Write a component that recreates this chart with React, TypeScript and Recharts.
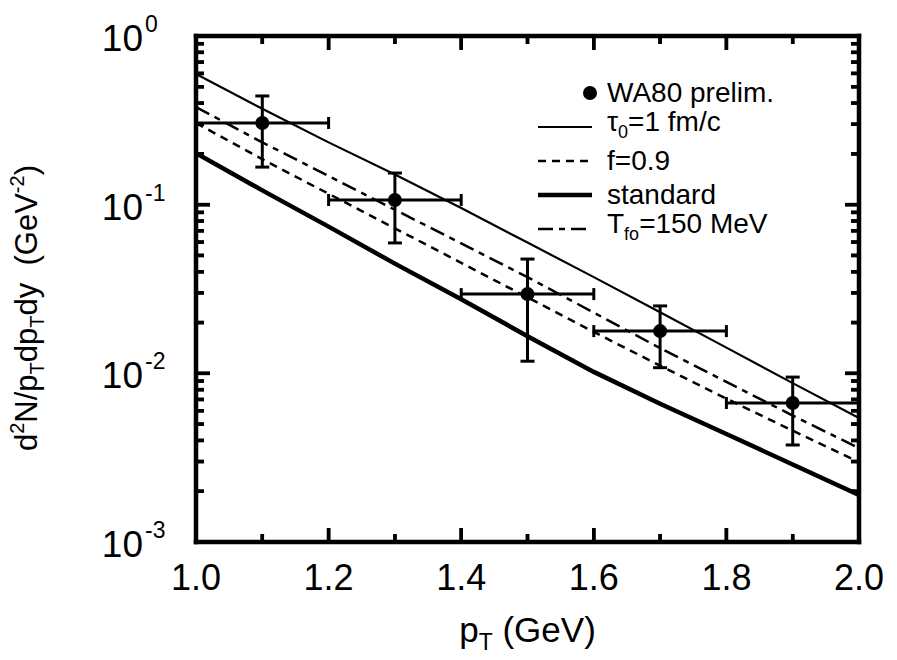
import React from 'react';
import { ComposedChart, Line, Scatter, ErrorBar, XAxis, YAxis, Legend } from 'recharts';

const FONT = '"Liberation Sans", Arial, Helvetica, sans-serif';

// model curves, sampled every 0.1 GeV
const pT = [1.0, 1.1, 1.2, 1.3, 1.4, 1.5, 1.6, 1.7, 1.8, 1.9, 2.0];
const tau0 = [0.596, 0.37, 0.234, 0.151, 0.0955, 0.0596, 0.0372, 0.023, 0.0142, 0.00875, 0.00543];
const f09 = [0.305, 0.186, 0.116, 0.0724, 0.0452, 0.0282, 0.0176, 0.0111, 0.00708, 0.00457, 0.00298];
const standard = [0.202, 0.1216, 0.0741, 0.0447, 0.0275, 0.0166, 0.0102, 0.0066, 0.00437, 0.00288, 0.0019];
const tfo150 = [0.379, 0.234, 0.148, 0.0933, 0.0589, 0.0372, 0.0229, 0.0141, 0.0089, 0.00562, 0.0036];

// WA80 preliminary points
const wa80X = [1.1, 1.3, 1.5, 1.7, 1.9];
const wa80Y = [0.305, 0.1066, 0.0295, 0.0178, 0.00667];
const wa80Low = [0.167, 0.0593, 0.0118, 0.0108, 0.00376];
const wa80High = [0.441, 0.154, 0.0476, 0.0251, 0.0095];
const wa80XErr = [0.1, 0.1, 0.1, 0.1, 0.1];

const xTicks = [1.0, 1.1, 1.2, 1.3, 1.4, 1.5, 1.6, 1.7, 1.8, 1.9, 2.0];
const yTicks = [
  0.001, 0.002, 0.003, 0.004, 0.005, 0.006, 0.007, 0.008, 0.009,
  0.01, 0.02, 0.03, 0.04, 0.05, 0.06, 0.07, 0.08, 0.09,
  0.1, 0.2, 0.3, 0.4, 0.5, 0.6, 0.7, 0.8, 0.9, 1,
];
const X_MIN = 1;
const X_MAX = 2;
const Y_MIN = 0.001;
const Y_MAX = 1;

const curves = pT.map((x, i) => ({
  x,
  tau0: tau0[i],
  f09: f09[i],
  standard: standard[i],
  tfo150: tfo150[i],
}));

const points = wa80X.map((x, i) => ({
  x,
  y: wa80Y[i],
  ex: wa80XErr[i],
  ey: [wa80Y[i] - wa80Low[i], wa80High[i] - wa80Y[i]],
}));

const isMajorX = (v: number) => Math.round(v * 10) % 2 === 0;
const isDecade = (v: number) => Math.abs(Math.log10(v) - Math.round(Math.log10(v))) < 1e-9;
const MAJOR = 14;
const MINOR = 8;

// frame tick marks, also placed as points on the frame edges
const majorX = xTicks.filter(isMajorX);
const minorX = xTicks.filter((v) => !isMajorX(v));
const majorY = yTicks.filter(isDecade);
const minorY = yTicks.filter((v) => !isDecade(v));
const bottomMarks = (vals: number[]) => vals.map((v) => ({ x: v, y: Y_MIN }));
const topMarks = (vals: number[]) => vals.map((v) => ({ x: v, y: Y_MAX }));
const leftMarks = (vals: number[]) => vals.map((v) => ({ x: X_MIN, y: v }));
const rightMarks = (vals: number[]) => vals.map((v) => ({ x: X_MAX, y: v }));

const mark = (dx: number, dy: number) => (p: any) => (
  <line x1={p.cx} y1={p.cy} x2={p.cx + dx} y2={p.cy + dy} stroke="#000" strokeWidth={3.5} />
);

const BottomTick = ({ x, y, payload }: any) => {
  const major = isMajorX(payload.value);
  return (
    <g>
      <line x1={x} x2={x} y1={y} y2={y - (major ? MAJOR : MINOR)} stroke="#000" strokeWidth={3.5} />
      {major && (
        <text x={x} y={y + 48} textAnchor="middle" fontSize={36} fontFamily={FONT} fill="#000">
          {payload.value.toFixed(1)}
        </text>
      )}
    </g>
  );
};

const TopTick = ({ x, y, payload }: any) => (
  <line x1={x} x2={x} y1={y} y2={y + (isMajorX(payload.value) ? MAJOR : MINOR)} stroke="#000" strokeWidth={3.5} />
);

const LeftTick = ({ x, y, payload }: any) => {
  const major = isDecade(payload.value);
  const exp = Math.round(Math.log10(payload.value));
  return (
    <g>
      <line x1={x} x2={x + (major ? MAJOR : MINOR)} y1={y} y2={y} stroke="#000" strokeWidth={3.5} />
      {major && (
        <g fontFamily={FONT} fill="#000">
          <text x={x - 53} y={y + 15} textAnchor="end" fontSize={37}>10</text>
          <text x={x - 51} y={y - 4} fontSize={23}>{exp}</text>
        </g>
      )}
    </g>
  );
};

const RightTick = ({ x, y, payload }: any) => (
  <line x1={x} x2={x - (isDecade(payload.value) ? MAJOR : MINOR)} y1={y} y2={y} stroke="#000" strokeWidth={3.5} />
);

const XTitle = ({ viewBox }: any) => {
  const cx = viewBox.x + viewBox.width / 2;
  return (
    <text x={cx} y={viewBox.y + 100} textAnchor="middle" fontSize={35} fontFamily={FONT} fill="#000">
      p<tspan fontSize={23} dy={8}>T</tspan>
      <tspan dy={-8}> (GeV)</tspan>
    </text>
  );
};

const YTitle = () => {
  const cx = 37;
  const cy = 308;
  return (
    <text
      x={cx}
      y={cy}
      transform={`rotate(-90 ${cx} ${cy})`}
      textAnchor="middle"
      fontSize={31}
      fontFamily={FONT}
      fill="#000"
      style={{ whiteSpace: 'pre' }}
    >
      d<tspan fontSize={20} dy={-13}>2</tspan>
      <tspan dy={13}>N/p</tspan>
      <tspan fontSize={20} dy={7}>T</tspan>
      <tspan dy={-7}>dp</tspan>
      <tspan fontSize={20} dy={7}>T</tspan>
      <tspan dy={-7}>{'dy  (GeV'}</tspan>
      <tspan fontSize={20} dy={-13}>-2</tspan>
      <tspan dy={13}>)</tspan>
    </text>
  );
};

const legendRows = [
  { key: 'wa80', label: <>WA80 prelim.</> },
  { key: 'tau0', label: <>τ<sub style={{ fontSize: 18 }}>0</sub>=1 fm/c</>, width: 2.2 },
  { key: 'f09', label: <>f=0.9</>, width: 2.5, dash: '8 6' },
  { key: 'standard', label: <>standard</>, width: 4.5 },
  { key: 'tfo150', label: <>T<sub style={{ fontSize: 18 }}>fo</sub>=150 MeV</>, width: 2.5, dash: '15 6 6 6' },
];

const LegendBox = () => (
  <div style={{ fontFamily: FONT, fontSize: 28, color: '#000' }}>
    {legendRows.map((r) => (
      <div key={r.key} style={{ display: 'flex', alignItems: 'center', height: 34 }}>
        <svg width={77} height={34} style={{ flexShrink: 0 }}>
          {r.key === 'wa80' ? (
            <circle cx={60} cy={17} r={7} fill="#000" />
          ) : (
            <line x1={8} x2={62} y1={17} y2={17} stroke="#000" strokeWidth={r.width} strokeDasharray={r.dash} />
          )}
        </svg>
        <span style={{ whiteSpace: 'nowrap', lineHeight: '34px' }}>{r.label}</span>
      </div>
    ))}
  </div>
);

const axisLine = { stroke: '#000', strokeWidth: 4.5, strokeLinecap: 'square' as const };

const markSeries: Array<[string, any[], number, number]> = [
  ['bMaj', bottomMarks(majorX), 0, -MAJOR],
  ['bMin', bottomMarks(minorX), 0, -MINOR],
  ['tMaj', topMarks(majorX), 0, MAJOR],
  ['tMin', topMarks(minorX), 0, MINOR],
  ['lMaj', leftMarks(majorY), MAJOR, 0],
  ['lMin', leftMarks(minorY), MINOR, 0],
  ['rMaj', rightMarks(majorY), -MAJOR, 0],
  ['rMin', rightMarks(minorY), -MINOR, 0],
];

export default function App() {
  return (
    <div style={{ position: 'absolute', left: 0, top: 0, width: 897, height: 660, background: '#fff' }}>
      <ComposedChart
        width={897}
        height={660}
        data={curves}
        margin={{ top: 35, right: 37, bottom: 38, left: 46 }}
      >
        <XAxis
          dataKey="x"
          type="number"
          domain={[X_MIN, X_MAX]}
          ticks={xTicks}
          interval={0}
          allowDataOverflow
          height={80}
          tickSize={0}
          tickMargin={0}
          tickLine={false}
          axisLine={axisLine}
          tick={<BottomTick />}
          label={{ content: <XTitle /> }}
        />
        <XAxis
          xAxisId="top"
          dataKey="x"
          type="number"
          orientation="top"
          domain={[X_MIN, X_MAX]}
          ticks={xTicks}
          interval={0}
          allowDataOverflow
          height={1}
          tickSize={0}
          tickMargin={0}
          tickLine={false}
          axisLine={axisLine}
          tick={<TopTick />}
        />
        <YAxis
          type="number"
          scale="log"
          domain={[Y_MIN, Y_MAX]}
          ticks={yTicks}
          interval={0}
          allowDataOverflow
          width={150}
          tickSize={0}
          tickMargin={0}
          tickLine={false}
          axisLine={axisLine}
          tick={<LeftTick />}
          label={{ content: <YTitle /> }}
        />
        <YAxis
          yAxisId="right"
          orientation="right"
          type="number"
          scale="log"
          domain={[Y_MIN, Y_MAX]}
          ticks={yTicks}
          interval={0}
          allowDataOverflow
          width={1}
          tickSize={0}
          tickMargin={0}
          tickLine={false}
          axisLine={axisLine}
          tick={<RightTick />}
        />
        <Line
          xAxisId="top"
          yAxisId="right"
          dataKey="tau0"
          stroke="none"
          dot={false}
          legendType="none"
          isAnimationActive={false}
        />
        <Line dataKey="tau0" type="linear" stroke="#000" strokeWidth={2.2} dot={false} isAnimationActive={false} />
        <Line dataKey="f09" type="linear" stroke="#000" strokeWidth={2.5} strokeDasharray="8 6" dot={false} isAnimationActive={false} />
        <Line dataKey="standard" type="linear" stroke="#000" strokeWidth={4.5} dot={false} isAnimationActive={false} />
        <Line dataKey="tfo150" type="linear" stroke="#000" strokeWidth={2.5} strokeDasharray="15 6 6 6" dot={false} isAnimationActive={false} />
        <Scatter
          data={points}
          dataKey="y"
          isAnimationActive={false}
          shape={(p: any) => <circle cx={p.cx} cy={p.cy} r={7} fill="#000" />}
        >
          <ErrorBar dataKey="ey" direction="y" width={7} stroke="#000" strokeWidth={3} isAnimationActive={false} />
          <ErrorBar dataKey="ex" direction="x" width={6} stroke="#000" strokeWidth={3} isAnimationActive={false} />
        </Scatter>
        {markSeries.map(([id, data, dx, dy]) => (
          <Scatter
            key={id}
            data={data}
            dataKey="y"
            isAnimationActive={false}
            shape={mark(dx, dy)}
          />
        ))}
        <Legend
          layout="vertical"
          align="center"
          verticalAlign="middle"
          content={<LegendBox />}
          wrapperStyle={{ position: 'absolute', left: 530, top: 76, width: 320 }}
        />
      </ComposedChart>
    </div>
  );
}
